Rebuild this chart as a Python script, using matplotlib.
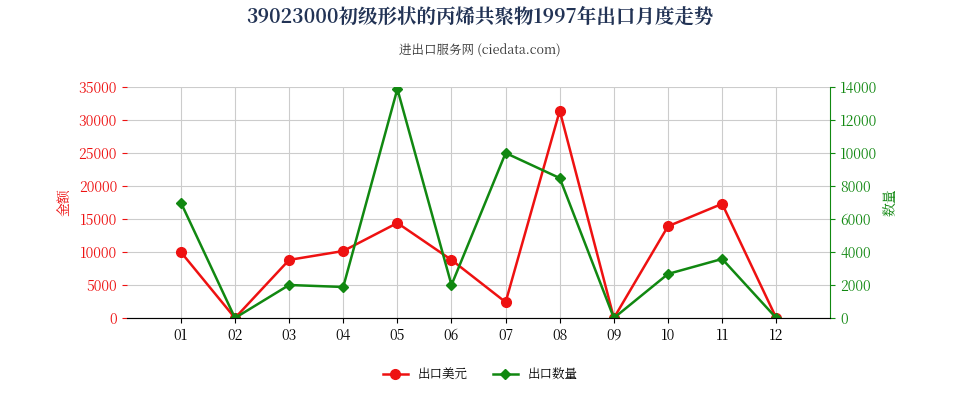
import matplotlib.pyplot as plt
from matplotlib import font_manager as fm

# pick whichever CJK font is actually registered
cjk = [f.name for f in fm.fontManager.ttflist if "CJK" in f.name]
fam = (["Noto Sans CJK SC"] if "Noto Sans CJK SC" in cjk else cjk[:1])
plt.rcParams["font.family"] = fam + ["DejaVu Sans"]
plt.rcParams["axes.unicode_minus"] = False

months = ["01", "02", "03", "04", "05", "06", "07", "08", "09", "10", "11", "12"]
usd = [10000, 0, 8800, 10150, 14400, 8800, 2400, 31400, 0, 13900, 17300, 0]
qty = [7000, 0, 2000, 1880, 13880, 2000, 10000, 8480, 0, 2670, 3580, 0]

fig = plt.figure(figsize=(9.6, 4), dpi=100)
ax = fig.add_axes([0.132, 0.205, 0.733, 0.5775])
ax2 = ax.twinx()
x = list(range(1, 13))

ax.plot(x, usd, color="#ee1111", marker="o", markersize=7, linewidth=1.8, label="出口美元")
ax2.plot(x, qty, color="#118811", marker="D", markersize=5, linewidth=1.8, label="出口数量")

ax.set_xlim(0, 13)
ax.set_ylim(0, 35000)
ax2.set_ylim(0, 14000)
ax.set_yticks(range(0, 35001, 5000))
ax2.set_yticks(range(0, 14001, 2000))
ax.set_xticks(x)
ax.set_xticklabels(months)
ax.grid(True, color="#cccccc", linewidth=0.8)
ax.set_axisbelow(True)

ax.tick_params(axis="y", colors="#ee1111", labelsize=10)
ax2.tick_params(axis="y", colors="#118811", labelsize=10)
ax.tick_params(axis="x", labelsize=10)
for s in ["top", "right", "left"]:
    ax.spines[s].set_visible(False)
ax2.spines["top"].set_visible(False)
ax2.spines["left"].set_visible(False)
ax2.spines["right"].set_color("#118811")
ax.spines["bottom"].set_color("#888888")

ax.set_ylabel("金额", color="#ee1111", fontsize=10)
ax2.set_ylabel("数量", color="#118811", fontsize=10)

fig.text(0.5, 0.945, "39023000初级形状的丙烯共聚物1997年出口月度走势",
         ha="center", fontsize=14, fontweight="bold", color="#223355")
fig.text(0.5, 0.865, "进出口服务网 (ciedata.com)", ha="center", fontsize=9, color="#333333")

h1, l1 = ax.get_legend_handles_labels()
h2, l2 = ax2.get_legend_handles_labels()
fig.legend(h1 + h2, l1 + l2, loc="center", bbox_to_anchor=(0.5, 0.065), ncol=2,
           frameon=False, fontsize=9)

fig.savefig("out.png", dpi=100, facecolor="white")
